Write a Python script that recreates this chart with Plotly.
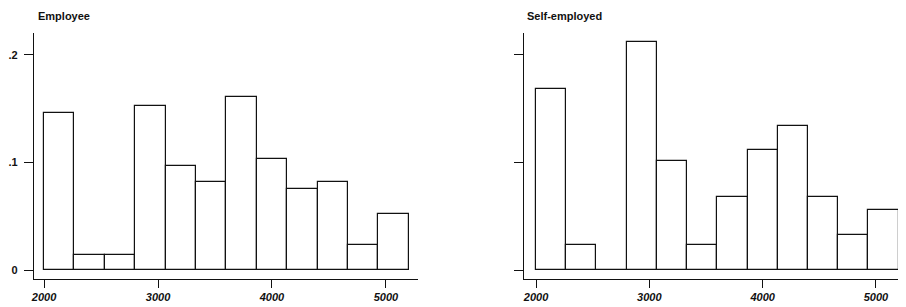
import plotly.graph_objects as go

# Data: 12 equal-width bins from 2000 to 5200, fraction per bin
bin_start = 2000
bin_end = 5200
n_bins = 12
employee = [0.146, 0.014, 0.014, 0.153, 0.097, 0.082, 0.161, 0.103, 0.075, 0.082, 0.023, 0.052]
self_employed = [0.168, 0.023, 0.0, 0.212, 0.101, 0.023, 0.068, 0.112, 0.134, 0.068, 0.033, 0.056]
panel_titles = ["Employee", "Self-employed"]
x_ticks = [2000, 3000, 4000, 5000]
y_ticks = [0, 0.1, 0.2]
y_tick_labels = ["0", ".1", ".2"]

bw = (bin_end - bin_start) / n_bins
centers = [bin_start + bw * (i + 0.5) for i in range(n_bins)]

fig = go.Figure()
for i, vals in enumerate([employee, self_employed]):
    ax = "" if i == 0 else str(i + 1)
    fig.add_trace(go.Bar(
        x=centers, y=vals, width=[bw] * n_bins,
        marker=dict(color="white", line=dict(color="#111111", width=1.2)),
        xaxis="x" + ax, yaxis="y" + ax, showlegend=False,
    ))

font_family = "Liberation Sans, Arial, sans-serif"
axis_common = dict(showline=True, linecolor="#111111", linewidth=1.3, ticks="outside",
                   tickwidth=1.2, tickcolor="#111111", showgrid=False, zeroline=False)

# page body has an 8px margin; figure is sized so it ends at the window edge
OFF = 8
W, H = 906 - OFF, 307 - OFF
L, T = 34 - OFF, 33 - OFF
B = H - (279.5 - OFF)
R = 0
pw = W - L - R
ph = H - T - B

fig.update_layout(
    width=W, height=H, margin=dict(l=L, r=R, t=T, b=B, autoexpand=False),
    plot_bgcolor="white", paper_bgcolor="white", bargap=0,
    font=dict(family=font_family, color="#111111"),
    xaxis=dict(domain=[0, (418 - 34) / pw], range=[1912, 5281], tickvals=x_ticks, ticklen=8,
               tickfont=dict(size=11, style="italic", weight="bold"), anchor="y", **axis_common),
    yaxis=dict(domain=[0, 1], range=[-0.0082, 0.2204], tickvals=y_ticks, ticktext=y_tick_labels,
               ticklen=9, ticklabelstandoff=4,
               tickfont=dict(size=11, weight="bold"), anchor="x", **axis_common),
    xaxis2=dict(domain=[(524 - 34) / pw, 1], range=[1894, 5265], tickvals=x_ticks, ticklen=8,
                tickfont=dict(size=11, style="italic", weight="bold"), anchor="y2", **axis_common),
    yaxis2=dict(domain=[0, 1], range=[-0.0082, 0.2204], tickvals=y_ticks, showticklabels=False,
                ticklen=9, anchor="x2", **axis_common),
)

for xpx, title in zip([36, 525], panel_titles):
    fig.add_annotation(x=(xpx - 34) / pw, y=(279.5 - 16) / ph, xref="paper", yref="paper",
                       xanchor="left", yanchor="middle", text="<b>" + title + "</b>",
                       showarrow=False, font=dict(size=11, family=font_family))

fig.write_html("out.html")
